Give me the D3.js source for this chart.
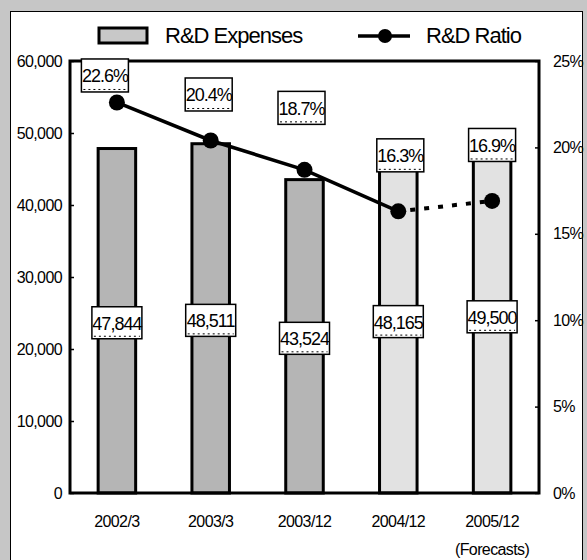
<!DOCTYPE html>
<html>
<head>
<meta charset="utf-8">
<script src="https://cdn.jsdelivr.net/npm/d3@7"></script>
<style>
  html, body { margin: 0; padding: 0; background: #c9c9c9; }
  svg { display: block; font-family: "Liberation Sans", Arial, sans-serif; }
  .tick text { font-size: 16px; letter-spacing: -0.6px; fill: #000; }
</style>
</head>
<body>
<div id="chart"></div>
<script>
// R&D chart: bars for expenses, line for ratio
const categories = ['2002/3', '2003/3', '2003/12', '2004/12', '2005/12'];
const categoryNotes = ['', '', '', '', '(Forecasts)'];
const expenses = [47844, 48511, 43524, 48165, 49500];
const ratio = [22.6, 20.4, 18.7, 16.3, 16.9];
const forecast = [false, false, false, false, true];
const expenseTicks = [0, 10000, 20000, 30000, 40000, 50000, 60000];
const ratioTicks = [0, 5, 10, 15, 20, 25];

// hand-placed ratio label offsets (layout only)
const pctLabelDx = [-12, -2, -3, 2, 0];
const pctLabelDy = [-27, -46, -62, -56, -56];

const W = 587, H = 560;
const plot = { left: 70, right: 539, top: 61, bottom: 493 };
const DARK_BAR = '#b5b5b5';
const LIGHT_BAR = '#e2e2e2';

const svg = d3.select('#chart').append('svg')
  .attr('width', W)
  .attr('height', H);

// grey scan border and white panel
svg.append('rect').attr('width', W).attr('height', H).attr('fill', '#c6c6c6');
svg.append('rect')
  .attr('x', 10.5).attr('y', 11.5)
  .attr('width', 572).attr('height', H)
  .attr('fill', '#fff')
  .attr('stroke', '#000').attr('stroke-width', 1);

const x = d3.scaleBand()
  .domain(categories)
  .range([plot.left, plot.right])
  .paddingInner(0.6)
  .paddingOuter(0.3);

const yL = d3.scaleLinear().domain([0, 60000]).range([plot.bottom, plot.top]);
const yR = d3.scaleLinear().domain([0, 25]).range([plot.bottom, plot.top]);

// bars
svg.append('g').selectAll('rect')
  .data(expenses)
  .join('rect')
  .attr('x', (d, i) => x(categories[i]))
  .attr('y', d => yL(d))
  .attr('width', x.bandwidth())
  .attr('height', d => yL(0) - yL(d))
  .attr('fill', (d, i) => i < 3 ? DARK_BAR : LIGHT_BAR)
  .attr('stroke', '#000')
  .attr('stroke-width', 3);

// plot frame
svg.append('rect')
  .attr('x', plot.left).attr('y', plot.top)
  .attr('width', plot.right - plot.left)
  .attr('height', plot.bottom - plot.top)
  .attr('fill', 'none')
  .attr('stroke', '#000')
  .attr('stroke-width', 3);

// axes
const axL = svg.append('g')
  .attr('transform', `translate(${plot.left},0)`)
  .call(d3.axisLeft(yL).tickValues(expenseTicks).tickFormat(d3.format(',')).tickSize(-4).tickPadding(8));
const axR = svg.append('g')
  .attr('transform', `translate(${plot.right},0)`)
  .call(d3.axisRight(yR).tickValues(ratioTicks).tickFormat(d => d + '%').tickSize(-4).tickPadding(14));
const axB = svg.append('g')
  .attr('transform', `translate(0,${plot.bottom})`)
  .call(d3.axisBottom(x).tickSize(0).tickPadding(23));

[axL, axR, axB].forEach(a => {
  a.select('.domain').remove();
  a.selectAll('.tick line').attr('stroke', '#000').attr('stroke-width', 1.5);
});
axB.selectAll('.tick').append('text')
  .attr('y', 62)
  .attr('fill', '#000')
  .attr('text-anchor', 'middle')
  .text(d => categoryNotes[categories.indexOf(d)]);

// ratio line
const cx = i => x(categories[i]) + x.bandwidth() / 2;
const pts = ratio.map((r, i) => [cx(i), yR(r), i]);
const line = d3.line().x(d => d[0]).y(d => d[1]);
const actual = pts.filter(p => !forecast[p[2]]);
const fcast = pts.filter((p, k) => forecast[p[2]] || (k + 1 < pts.length && forecast[pts[k + 1][2]]));

svg.append('path')
  .attr('d', line(actual))
  .attr('fill', 'none')
  .attr('stroke', '#000')
  .attr('stroke-width', 3.5);
svg.append('path')
  .attr('d', line(fcast))
  .attr('fill', 'none')
  .attr('stroke', '#000')
  .attr('stroke-width', 4)
  .attr('stroke-dasharray', '5,9')
  .attr('stroke-dashoffset', -12);

svg.append('g').selectAll('circle')
  .data(pts)
  .join('circle')
  .attr('cx', d => d[0])
  .attr('cy', d => d[1])
  .attr('r', 8)
  .attr('fill', '#000');

// label boxes
function labelBox(g, cxp, cyp, w, h, txt) {
  g.append('rect')
    .attr('x', cxp - w / 2).attr('y', cyp - h / 2)
    .attr('width', w).attr('height', h)
    .attr('fill', '#fff')
    .attr('stroke', '#000')
    .attr('stroke-width', 1.5);
  g.append('line')
    .attr('x1', cxp - w / 2 + 2).attr('x2', cxp + w / 2 - 2)
    .attr('y1', cyp + h / 2 - 2.5).attr('y2', cyp + h / 2 - 2.5)
    .attr('stroke', '#000')
    .attr('stroke-width', 1)
    .attr('stroke-dasharray', '2,3');
  g.append('text')
    .attr('x', cxp).attr('y', cyp + 7)
    .attr('text-anchor', 'middle')
    .style('font-size', '18px')
    .style('letter-spacing', '-1px')
    .text(txt);
}

const valLabels = svg.append('g');
expenses.forEach((v, i) => {
  labelBox(valLabels, cx(i), yL(v / 2) + 2, 50, 32, d3.format(',')(v));
});

const pctLabels = svg.append('g');
ratio.forEach((r, i) => {
  labelBox(pctLabels, cx(i) + pctLabelDx[i], yR(r) + pctLabelDy[i], 47, 33, d3.format('.1f')(r) + '%');
});

// legend
const lg = svg.append('g');
lg.append('rect')
  .attr('x', 99).attr('y', 28)
  .attr('width', 48).attr('height', 15)
  .attr('fill', '#c8c8c8')
  .attr('stroke', '#000')
  .attr('stroke-width', 3);
lg.append('text')
  .attr('x', 165).attr('y', 43)
  .style('font-size', '22px')
  .style('letter-spacing', '-1px')
  .text('R&D Expenses');
lg.append('line')
  .attr('x1', 358).attr('x2', 410)
  .attr('y1', 36).attr('y2', 36)
  .attr('stroke', '#000')
  .attr('stroke-width', 3.5);
lg.append('circle')
  .attr('cx', 385).attr('cy', 36).attr('r', 7)
  .attr('fill', '#000');
lg.append('text')
  .attr('x', 426).attr('y', 43)
  .style('font-size', '22px')
  .style('letter-spacing', '-1px')
  .text('R&D Ratio');
</script>
</body>
</html>
